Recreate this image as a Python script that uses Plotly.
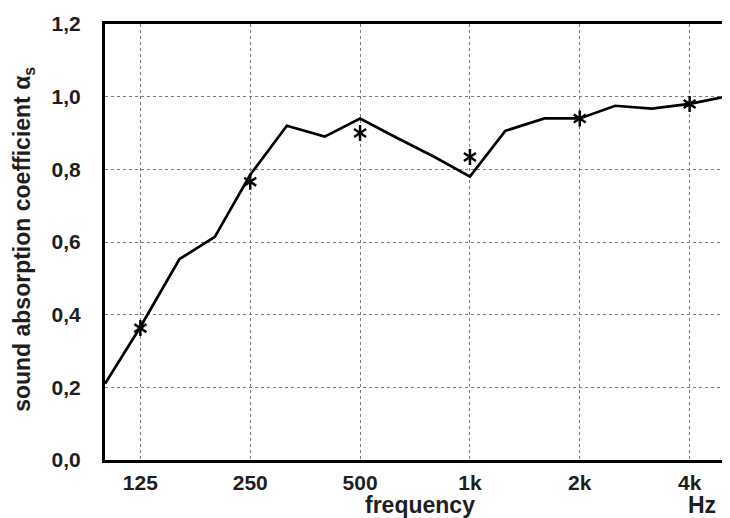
import plotly.graph_objects as go

# 1/3-octave band frequencies (Hz) and measured absorption curve
freq = [100, 125, 160, 200, 250, 315, 400, 500, 630, 800, 1000, 1250, 1600, 2000, 2500, 3150, 4000, 5000]
alpha = [0.21, 0.366, 0.553, 0.614, 0.785, 0.92, 0.89, 0.94, 0.887, 0.834, 0.78, 0.906, 0.94, 0.94, 0.975, 0.967, 0.98, 1.0]

# Octave-band values (asterisks)
oct_freq = [125, 250, 500, 1000, 2000, 4000]
oct_alpha = [0.363, 0.766, 0.90, 0.834, 0.94, 0.98]

x_tickvals = [125, 250, 500, 1000, 2000, 4000]
x_ticktext = ["125", "250", "500", "1k", "2k", "4k"]
y_tickvals = [0.0, 0.2, 0.4, 0.6, 0.8, 1.0, 1.2]

font_family = "Liberation Sans, Arial, sans-serif"
txt_color = "#1e1e1e"

fig = go.Figure()
fig.add_trace(go.Scatter(
    x=freq, y=alpha, mode="lines",
    line=dict(color="black", width=2.7),
    showlegend=False,
))
for sym in ["y-up-open", "y-down-open"]:
    fig.add_trace(go.Scatter(
        x=oct_freq, y=oct_alpha, mode="markers",
        marker=dict(symbol=sym, size=10, color="black",
                    line=dict(color="black", width=2.5)),
        showlegend=False,
    ))

fig.update_layout(
    width=730, height=518,
    margin=dict(l=97, r=13, t=16, b=66),
    paper_bgcolor="white", plot_bgcolor="white",
    separators=",.",
    font=dict(family=font_family, color=txt_color, size=21, weight="bold"),
    xaxis=dict(
        type="log", range=[2.0, 3.69897], automargin=False,
        tickvals=x_tickvals, ticktext=x_ticktext,
        showgrid=True, gridcolor="#7a7a7a", griddash="dot", gridwidth=1,
        showline=True, linecolor="black", linewidth=3, mirror=True,
        ticks="", ticklabelstandoff=2,
        tickfont=dict(size=21, family=font_family, weight="bold", color=txt_color),
        zeroline=False,
    ),
    yaxis=dict(
        range=[0, 1.2], tickvals=y_tickvals, tickformat=".1f", automargin=False,
        showgrid=True, gridcolor="#7a7a7a", griddash="dot", gridwidth=1,
        showline=True, linecolor="black", linewidth=3, mirror=True,
        ticks="", ticklabelstandoff=17,
        tickfont=dict(size=21, family=font_family, weight="bold", color=txt_color),
        zeroline=False,
    ),
    annotations=[
        dict(text="frequency", xref="paper", yref="paper", x=0.508, y=-0.103,
             xanchor="center", yanchor="middle", showarrow=False,
             font=dict(size=23, family=font_family, weight="bold", color=txt_color)),
        dict(text="Hz", xref="paper", yref="paper", x=0.963, y=-0.103,
             xanchor="center", yanchor="middle", showarrow=False,
             font=dict(size=23, family=font_family, weight="bold", color=txt_color)),
        dict(text="sound absorption coefficient α<sub>s</sub>", xref="paper", yref="paper",
             x=-0.1306, y=0.505, textangle=-90,
             xanchor="center", yanchor="middle", showarrow=False,
             font=dict(size=23, family=font_family, weight="bold", color=txt_color)),
    ],
)

fig.write_html("out.html")
